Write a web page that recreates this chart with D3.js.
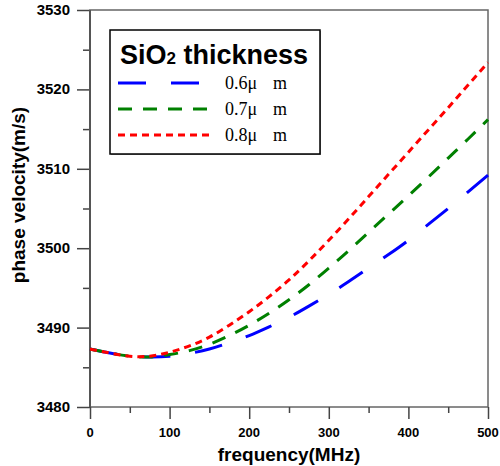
<!DOCTYPE html>
<html>
<head>
  <meta charset="utf-8">
  <script src="https://d3js.org/d3.v7.min.js"></script>
  <style type="text/css">
    body { margin: 0; background: #fff; }
    svg { display: block; }
    .tick-label { font-family: Arial, "Liberation Sans", sans-serif; font-weight: bold; fill: #000; }
    .axis-title { font-family: Arial, "Liberation Sans", sans-serif; font-weight: bold; font-size: 19px; fill: #000; }
  </style>
</head>
<body>
  <div id="chart"></div>
  <script type="text/javascript">
    // data
    var freq = [0, 25, 50, 75, 100, 125, 150, 175, 200, 225, 250, 275, 300, 325, 350, 375, 400, 425, 450, 475, 500];
    var v06 = [3487.3, 3486.8, 3486.45, 3486.3, 3486.4, 3486.75, 3487.3, 3488.1, 3489.0, 3490.1, 3491.3, 3492.7, 3494.2, 3495.8, 3497.5, 3499.2, 3501.0, 3503.0, 3505.0, 3507.1, 3509.2];
    var v07 = [3487.3, 3486.8, 3486.4, 3486.3, 3486.6, 3487.1, 3487.9, 3489.0, 3490.3, 3491.8, 3493.5, 3495.4, 3497.5, 3499.7, 3502.0, 3504.3, 3506.6, 3508.95, 3511.35, 3513.75, 3516.2];
    var v08 = [3487.3, 3486.8, 3486.4, 3486.4, 3486.9, 3487.7, 3488.8, 3490.3, 3492.0, 3493.9, 3496.0, 3498.4, 3501.0, 3503.7, 3506.5, 3509.3, 3512.1, 3514.9, 3517.7, 3520.55, 3523.4];
    var seriesNames = ['0.6\u03bc', '0.7\u03bc', '0.8\u03bc'];
    var xTicks = [0, 100, 200, 300, 400, 500];
    var yTicks = [3480, 3490, 3500, 3510, 3520, 3530];

    var width = 500, height = 466;
    var pLeft = 90, pRight = 488, pTop = 10, pBottom = 407;

    var svg = d3.select('#chart').append('svg')
      .attr('width', width)
      .attr('height', height);

    var x = d3.scaleLinear().domain([0, 500]).range([pLeft, pRight]);
    var y = d3.scaleLinear().domain([3480, 3530]).range([pBottom, pTop]);

    var styles = [
      { color: '#0000ff', dash: '28,25' },
      { color: '#008000', dash: '14,11' },
      { color: '#ff0000', dash: '7,5' }
    ];
    var allSeries = [v06, v07, v08];

    // frame
    svg.append('rect')
      .attr('x', pLeft).attr('y', pTop)
      .attr('width', pRight - pLeft).attr('height', pBottom - pTop)
      .attr('fill', 'none').attr('stroke', '#666').attr('stroke-width', 1.5);

    // x axis
    var xAxis = d3.axisBottom(x).tickValues(d3.range(0, 501, 50)).tickSize(6).tickFormat('');
    var gx = svg.append('g').attr('transform', 'translate(0,' + pBottom + ')').call(xAxis);
    gx.selectAll('.tick line')
      .attr('y2', function(d) { return d % 100 === 0 ? 12 : 6; });
    gx.selectAll('line, path').attr('stroke', '#444').attr('stroke-width', 1.5);
    gx.select('.domain').remove();
    svg.selectAll('.xlab').data(xTicks).enter().append('text')
      .attr('class', 'tick-label')
      .attr('x', function(d) { return x(d); })
      .attr('y', 437)
      .attr('text-anchor', 'middle')
      .style('font-size', '13px')
      .text(function(d) { return d; });

    // y axis
    var yAxis = d3.axisLeft(y).tickValues(d3.range(3480, 3531, 5)).tickSize(6).tickFormat('');
    var gy = svg.append('g').attr('transform', 'translate(' + pLeft + ',0)').call(yAxis);
    gy.selectAll('.tick line')
      .attr('x2', function(d) { return d % 10 === 0 ? -13 : -7; });
    gy.selectAll('line, path').attr('stroke', '#444').attr('stroke-width', 1.5);
    gy.select('.domain').remove();
    svg.append('line')
      .attr('x1', pLeft).attr('x2', pLeft).attr('y1', pTop).attr('y2', pBottom)
      .attr('stroke', '#555').attr('stroke-width', 2);
    svg.selectAll('.ylab').data(yTicks).enter().append('text')
      .attr('class', 'tick-label')
      .attr('x', 70)
      .attr('y', function(d) { return y(d) + 5; })
      .attr('text-anchor', 'end')
      .style('font-size', '15px')
      .text(function(d) { return d; });

    // axis titles
    svg.append('text')
      .attr('class', 'axis-title')
      .attr('x', (pLeft + pRight) / 2)
      .attr('y', 461)
      .attr('text-anchor', 'middle')
      .text('frequency(MHz)');
    svg.append('text')
      .attr('class', 'axis-title')
      .attr('transform', 'translate(25,195) rotate(-90)')
      .attr('text-anchor', 'middle')
      .text('phase velocity(m/s)');

    // curves
    var line = d3.line()
      .x(function(d, i) { return x(freq[i]); })
      .y(function(d) { return y(d); })
      .curve(d3.curveNatural);

    allSeries.forEach(function(s, i) {
      svg.append('path')
        .datum(s)
        .attr('d', line)
        .attr('fill', 'none')
        .attr('stroke', styles[i].color)
        .attr('stroke-width', 3)
        .attr('stroke-dasharray', styles[i].dash);
    });

    // legend
    var lg = svg.append('g');
    lg.append('rect')
      .attr('x', 111).attr('y', 31)
      .attr('width', 210).attr('height', 124)
      .attr('fill', '#999');
    lg.append('rect')
      .attr('x', 110).attr('y', 30)
      .attr('width', 210).attr('height', 124)
      .attr('fill', '#fff').attr('stroke', '#000').attr('stroke-width', 1.5);
    var title = lg.append('text')
      .attr('x', 120).attr('y', 64)
      .style('font-family', 'Arial, "Liberation Sans", sans-serif')
      .style('font-weight', 'bold')
      .style('font-size', '27px');
    title.append('tspan').text('SiO');
    title.append('tspan').style('font-size', '17px').text('2');
    title.append('tspan').text(' thickness');

    seriesNames.forEach(function(name, i) {
      var ly = 83 + i * 26;
      lg.append('line')
        .attr('x1', 118).attr('x2', 213)
        .attr('y1', ly).attr('y2', ly)
        .attr('stroke', styles[i].color)
        .attr('stroke-width', 3)
        .attr('stroke-dasharray', styles[i].dash);
      var t = lg.append('text')
        .attr('x', 225).attr('y', ly + 6)
        .style('font-family', '"Times New Roman", "Liberation Serif", serif')
        .style('font-size', '18px');
      t.append('tspan').text(name);
      t.append('tspan').attr('x', 273).text('m');
    });
  </script>
</body>
</html>
